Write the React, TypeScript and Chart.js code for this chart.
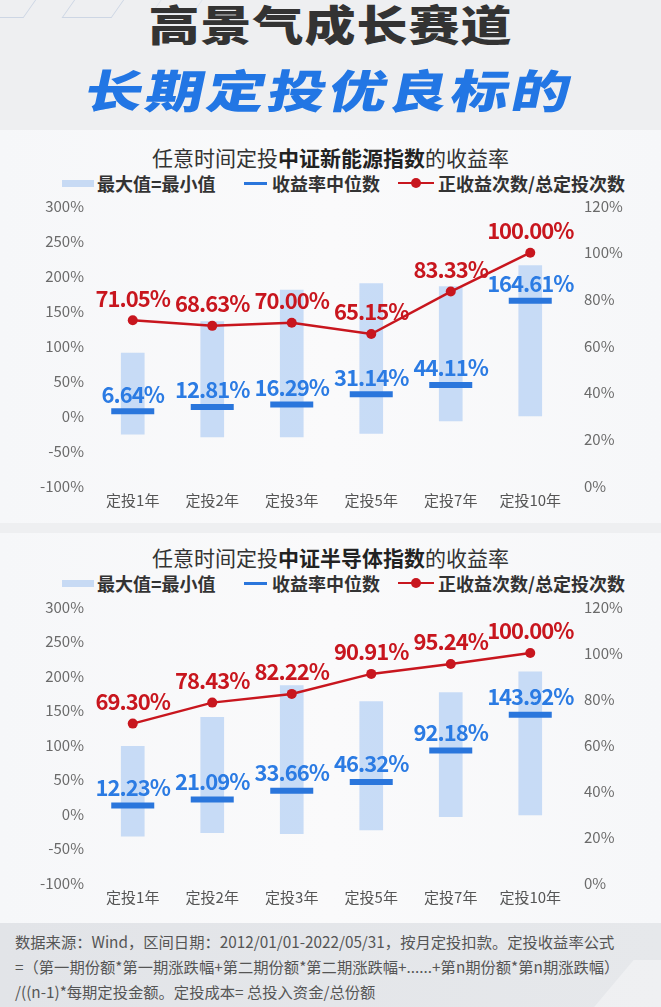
import React, { useEffect, useRef } from "react";
import { Chart, registerables } from "chart.js";

Chart.register(...registerables);

const FONT = '"Noto Sans CJK SC", "Noto Sans", sans-serif';

// Categories (x axis)
const categories = ["定投1年", "定投2年", "定投3年", "定投5年", "定投7年", "定投10年"];

// Axis ranges / ticks
const leftTicks = { min: -100, max: 300, step: 50 };
const rightTicks = { min: 0, max: 120, step: 20 };

// Chart 1: 中证新能源指数
const nevMin = [-26, -30, -30, -25, -7, 0];
const nevMax = [90, 135, 180, 189, 185, 215];
const nevMedian = [6.64, 12.81, 16.29, 31.14, 44.11, 164.61];
const nevPositive = [71.05, 68.63, 70.0, 65.15, 83.33, 100.0];

// Chart 2: 中证半导体指数
const semiMin = [-32, -27, -28.5, -23, -4, -1.5];
const semiMax = [98, 140, 186, 163, 176, 206];
const semiMedian = [12.23, 21.09, 33.66, 46.32, 92.18, 143.92];
const semiPositive = [69.3, 78.43, 82.22, 90.91, 95.24, 100.0];

// Legend labels
const legendLabels = ["最大值=最小值", "收益率中位数", "正收益次数/总定投次数"];

const RED = "#c8161e";
const BLUE = "#2a76dc";
const BLUE_TEXT = "#2b7be3";
const LIGHT_BLUE = "rgba(190, 214, 245, 0.85)";

const valueLabels = {
  id: "valueLabels",
  afterDatasetsDraw(chart: any) {
    const ctx = chart.ctx;
    chart.data.datasets.forEach((ds: any, di: number) => {
      const cfg = ds.valueLabel;
      if (!cfg) return;
      const meta = chart.getDatasetMeta(di);
      ctx.save();
      ctx.font = `bold 22px ${FONT}`;
      try {
        (ctx as any).letterSpacing = "-1px";
      } catch (e) {}
      ctx.fillStyle = cfg.color;
      ctx.textAlign = "center";
      ctx.textBaseline = "middle";
      meta.data.forEach((el: any, i: number) => {
        const v = ds.data[i] as number;
        ctx.fillText(v.toFixed(2) + "%", el.x, el.y - cfg.offset);
      });
      ctx.restore();
    });
  },
};

function ComboChart(props: {
  mins: number[];
  maxs: number[];
  medians: number[];
  positives: number[];
  blueOffset: number;
  redOffset: number;
}) {
  const ref = useRef<HTMLCanvasElement | null>(null);
  useEffect(() => {
    if (!ref.current) return;
    const ranges = props.mins.map((m, i) => [m, props.maxs[i]]);
    const chart = new Chart(ref.current, {
      type: "bar",
      data: {
        labels: categories,
        datasets: [
          {
            type: "line",
            label: legendLabels[2],
            data: props.positives,
            yAxisID: "y2",
            borderColor: RED,
            borderWidth: 2.5,
            pointRadius: 5,
            pointHoverRadius: 5,
            pointBackgroundColor: RED,
            pointBorderWidth: 0,
            tension: 0,
            clip: false,
            order: 1,
            valueLabel: { color: RED, offset: props.redOffset },
          } as any,
          {
            type: "line",
            label: legendLabels[1],
            data: props.medians,
            yAxisID: "y",
            showLine: false,
            pointStyle: "line",
            pointRadius: 21.5,
            pointHoverRadius: 21.5,
            pointBorderWidth: 6,
            pointHoverBorderWidth: 6,
            pointBorderColor: BLUE,
            borderColor: BLUE,
            clip: false,
            order: 2,
            valueLabel: { color: BLUE_TEXT, offset: props.blueOffset },
          } as any,
          {
            type: "bar",
            label: legendLabels[0],
            data: ranges as any,
            yAxisID: "y",
            backgroundColor: LIGHT_BLUE,
            borderWidth: 0,
            borderSkipped: false,
            barThickness: 23,
            order: 3,
          } as any,
        ],
      },
      options: {
        animation: false,
        responsive: true,
        maintainAspectRatio: false,
        layout: { autoPadding: false, padding: { top: 10, bottom: 1, left: 0, right: 0 } },
        plugins: {
          legend: { display: false },
          title: { display: false },
          tooltip: { enabled: false },
        },
        scales: {
          x: {
            grid: { display: false, drawTicks: false },
            border: { display: false },
            ticks: {
              padding: 5,
              color: "#555",
              font: { family: FONT, size: 15 },
            },
          },
          y: {
            position: "left",
            min: leftTicks.min,
            max: leftTicks.max,
            grid: { display: false, drawTicks: false },
            border: { display: false },
            ticks: {
              stepSize: leftTicks.step,
              padding: 9,
              color: "#6a6a6a",
              font: { family: FONT, size: 15 },
              callback: (v: any) => v + "%",
            },
            afterFit: (s: any) => {
              s.width = 93;
            },
          },
          y2: {
            position: "right",
            min: rightTicks.min,
            max: rightTicks.max,
            grid: { display: false, drawTicks: false },
            border: { display: false },
            ticks: {
              stepSize: rightTicks.step,
              padding: 14,
              color: "#6a6a6a",
              font: { family: FONT, size: 15 },
              callback: (v: any) => v + "%",
            },
            afterFit: (s: any) => {
              s.width = 91;
            },
          },
        },
      },
      plugins: [valueLabels],
    });
    return () => chart.destroy();
  }, []);
  return <canvas ref={ref} />;
}

function Legend(props: { top: number }) {
  const t = props.top;
  const txt: React.CSSProperties = {
    position: "absolute",
    top: t - 13,
    fontSize: 18,
    fontWeight: 700,
    color: "#333",
    lineHeight: "26px",
    whiteSpace: "nowrap",
  };
  return (
    <>
      <div style={{ position: "absolute", left: 62, top: t - 3.5, width: 32, height: 7, background: "#c7daf4" }} />
      <div style={{ ...txt, left: 97 }}>{legendLabels[0]}</div>
      <div style={{ position: "absolute", left: 244, top: t - 1.5, width: 23, height: 3, background: BLUE }} />
      <div style={{ ...txt, left: 272 }}>{legendLabels[1]}</div>
      <div style={{ position: "absolute", left: 398, top: t - 1.25, width: 36, height: 2.5, background: RED }} />
      <div style={{ position: "absolute", left: 411, top: t - 5, width: 10, height: 10, borderRadius: 5, background: RED }} />
      <div style={{ ...txt, left: 438 }}>{legendLabels[2]}</div>
    </>
  );
}

function ChartTitle(props: { top: number; bold: string }) {
  return (
    <div
      style={{
        position: "absolute",
        left: 0,
        width: 661,
        top: props.top - 15,
        lineHeight: "30px",
        textAlign: "center",
        fontSize: 21,
        color: "#333",
        whiteSpace: "nowrap",
      }}
    >
      任意时间定投<span style={{ fontWeight: 700, color: "#222" }}>{props.bold}</span>的收益率
    </div>
  );
}

export default function App() {
  return (
    <div
      style={{
        position: "relative",
        width: 661,
        height: 1007,
        overflow: "hidden",
        background: "#eeeff1",
        fontFamily: FONT,
      }}
    >
      <style>{`body{margin:0;}`}</style>
      {/* header decorations */}
      <div style={{ position: "absolute", left: -20, top: -12, width: 52, height: 28, border: "1px solid #cdd6e4", transform: "skewX(-35deg)" }} />
      <div style={{ position: "absolute", left: 72, top: -12, width: 48, height: 28, border: "1px solid #cdd6e4", transform: "skewX(-35deg)" }} />
      <div style={{ position: "absolute", left: 160, top: -12, width: 40, height: 24, border: "1px solid #dde3ec", transform: "skewX(-35deg)" }} />
      {/* header titles */}
      <div
        style={{
          position: "absolute",
          left: 0,
          width: 661,
          top: -4,
          textAlign: "center",
          fontSize: 51,
          fontWeight: 900,
          color: "#333",
          letterSpacing: 1,
          lineHeight: "54px",
          transform: "scaleY(0.82)",
          whiteSpace: "nowrap",
        }}
      >
        高景气成长赛道
      </div>
      <div
        style={{
          position: "absolute",
          left: 0,
          width: 661,
          top: 56,
          textAlign: "center",
          fontSize: 58,
          fontWeight: 900,
          color: "#2276e4",
          letterSpacing: 3,
          lineHeight: "64px",
          transform: "skewX(-12deg) scaleY(0.78)",
          whiteSpace: "nowrap",
        }}
      >
        长期定投优良标的
      </div>

      {/* panel 1 */}
      <div style={{ position: "absolute", left: 0, top: 130, width: 661, height: 393, background: "linear-gradient(90deg,#f6f7f9,#fafafb 50%,#f6f7f9)" }} />
      <ChartTitle top={157} bold="中证新能源指数" />
      <Legend top={183} />
      <div style={{ position: "absolute", left: 0, top: 183, width: 661, height: 332 }}>
        <ComboChart mins={nevMin} maxs={nevMax} medians={nevMedian} positives={nevPositive} blueOffset={17} redOffset={22} />
      </div>

      {/* panel 2 */}
      <div style={{ position: "absolute", left: 0, top: 533, width: 661, height: 390, background: "linear-gradient(90deg,#f6f7f9,#fafafb 50%,#f6f7f9)" }} />
      <ChartTitle top={557} bold="中证半导体指数" />
      <Legend top={583} />
      <div style={{ position: "absolute", left: 0, top: 584, width: 661, height: 328 }}>
        <ComboChart mins={semiMin} maxs={semiMax} medians={semiMedian} positives={semiPositive} blueOffset={18} redOffset={22} />
      </div>

      {/* footer */}
      <div style={{ position: "absolute", left: 0, top: 923, width: 661, height: 84, background: "linear-gradient(90deg,#e2e4e8,#e6e8eb)" }} />
      <div style={{ position: "absolute", left: 600, top: 960, width: 120, height: 80, background: "rgba(255,255,255,0.35)", transform: "skewX(-40deg)" }} />
      <div
        style={{
          position: "absolute",
          left: 15,
          top: 929,
          width: 650,
          fontSize: 15.3,
          lineHeight: "25px",
          color: "#555",
          whiteSpace: "nowrap",
        }}
      >
        <div>数据来源：Wind，区间日期：2012/01/01-2022/05/31，按月定投扣款。定投收益率公式</div>
        <div>=（第一期份额*第一期涨跌幅+第二期份额*第二期涨跌幅+......+第n期份额*第n期涨跌幅）</div>
        <div>/((n-1)*每期定投金额。定投成本= 总投入资金/总份额</div>
      </div>
    </div>
  );
}
